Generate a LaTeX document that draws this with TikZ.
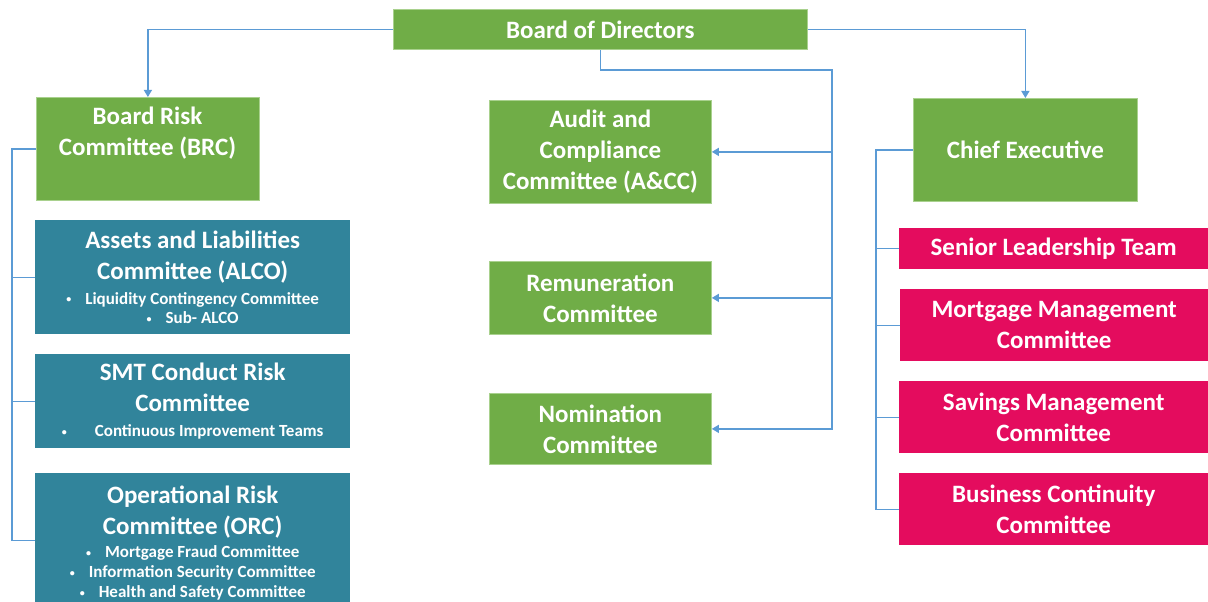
\documentclass[tikz,border=0pt]{standalone}
\usepackage{fontspec}
\setmainfont{Carlito}
\usetikzlibrary{arrows.meta}

\definecolor{boxgreen}{HTML}{70AD47}
\definecolor{edgegreen}{HTML}{A9D18E}
\definecolor{boxteal}{HTML}{31849B}
\definecolor{boxpink}{HTML}{E40C5E}
\definecolor{lineblue}{HTML}{5B9BD5}

% title and bullet-line fonts
\newcommand\ttlfont{\fontsize{25}{31}\selectfont\bfseries}
\newcommand\bitem[2][14pt]{{\fontsize{17}{20}\selectfont
  \raisebox{1.5pt}{\fontsize{10}{10}\selectfont\textbullet}\hspace{#1}#2}}

\tikzset{
  conn/.style={draw=lineblue, line width=1.2pt},
  arr/.style={-{Triangle[width=8pt,length=7pt]}},
  basebox/.style={rectangle, anchor=north west, inner sep=0pt, text=white,
                  align=center, font=\ttlfont},
  gbox/.style={basebox, fill=boxgreen, draw=edgegreen, line width=0.8pt},
  tbox/.style={basebox, fill=boxteal},
  pbox/.style={basebox, fill=boxpink},
}

\begin{document}
\begin{tikzpicture}[x=1pt, y=-1pt]
\useasboundingbox (0,0) rectangle (1208,602);

% board
\node[gbox, minimum width=414pt, minimum height=40pt] (bod) at (393,9) {Board of Directors};

% risk branch
\node[gbox, minimum width=223pt, minimum height=103pt] (brc) at (36,97) {};
\node[text=white, align=center, font=\ttlfont, inner sep=0pt] (brctext) at (147.5,133)
  {Board Risk\\Committee (BRC)};

\node[tbox, minimum width=315pt, minimum height=114pt] (alco) at (35,220)
  {Assets and Liabilities\\Committee (ALCO)\\[-6pt]
   \bitem{Liquidity Contingency Committee}\\[-11.5pt]
   \bitem{Sub- ALCO}};

\node[tbox, minimum width=315pt, minimum height=94pt] (smt) at (35,354)
  {SMT Conduct Risk\\Committee\\[-6pt]
   \bitem[28pt]{Continuous Improvement Teams}};

% runs past the lower edge of the page
\node[tbox, minimum width=315pt, minimum height=140pt] (orc) at (35,473)
  {Operational Risk\\Committee (ORC)\\[-8pt]
   \bitem{Mortgage Fraud Committee}\\[-11pt]
   \bitem{Information Security Committee}\\[-11pt]
   \bitem{Health and Safety Committee}};

% board committees
\node[gbox, minimum width=222pt, minimum height=103pt] (acc) at (489,100)
  {Audit and\\Compliance\\Committee (A\&CC)};
\node[gbox, minimum width=222pt, minimum height=73pt] (rem) at (489,261)
  {Remuneration\\Committee};
\node[gbox, minimum width=222pt, minimum height=71pt] (nom) at (489,393)
  {Nomination\\Committee};

% executive branch
\node[gbox, minimum width=224pt, minimum height=103pt] (ce) at (913,98) {Chief Executive};
\node[pbox, minimum width=309pt, minimum height=41pt] (slt) at (899,228) {Senior Leadership Team};
\node[pbox, minimum width=308pt, minimum height=72pt] (mmc) at (900,289) {Mortgage Management\\Committee};
\node[pbox, minimum width=309pt, minimum height=72pt] (smc) at (899,381) {Savings Management\\Committee};
\node[pbox, minimum width=309pt, minimum height=72pt] (bcc) at (899,473) {Business Continuity\\Committee};

% connectors from the board
\draw[conn, arr] (bod.west) -| (brc.north);
\draw[conn, arr] (bod.east) -| (ce.north);
\coordinate (busT) at (832,70);
\draw[conn, arr] (bod.south) |- (busT) |- (nom.east);
\draw[conn, arr] (busT |- acc.east) -- (acc.east);
\draw[conn, arr] (busT |- rem.east) -- (rem.east);

% risk committee tree
\coordinate (orcIn) at ([yshift=3pt]orc.west);
\draw[conn] (brc.west) -- ++(-24,0) coordinate (lb) |- (orcIn);
\draw[conn] (lb |- alco.west) -- (alco.west);
\draw[conn] (lb |- smt.west) -- (smt.west);

% executive tree
\draw[conn] (ce.west) -- ++(-37,0) coordinate (rb) |- (bcc.west);
\draw[conn] (rb |- slt.west) -- (slt.west);
\draw[conn] (rb |- mmc.west) -- (mmc.west);
\draw[conn] (rb |- smc.west) -- (smc.west);
\end{tikzpicture}
\end{document}
